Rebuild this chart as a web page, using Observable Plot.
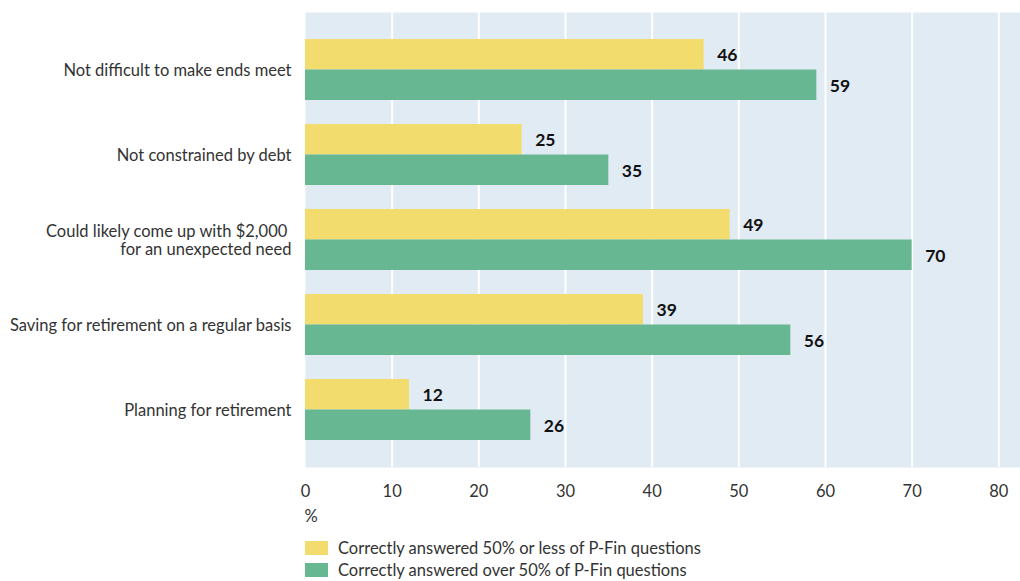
<!DOCTYPE html>
<html>
<head>
<meta charset="utf-8">
<script src="https://cdn.jsdelivr.net/npm/d3@7"></script>
<script src="https://cdn.jsdelivr.net/npm/@observablehq/plot@0.6"></script>
<style>
  html, body { margin: 0; padding: 0; background: #fff; }
  #wrap { position: relative; width: 1020px; height: 581px; font-family: Lato, "Open Sans", sans-serif; color: #333; }
  #legend { position: absolute; left: 305px; top: 537px; font-size: 16.5px; }
  .row { display: flex; align-items: center; height: 22px; }
  .sw { width: 23px; height: 14px; margin-right: 10px; }
</style>
</head>
<body>
<div id="wrap"><div id="chart"></div><div id="legend"></div></div>
<script>
const categories = [
  "Not difficult to make ends meet",
  "Not constrained by debt",
  "Could likely come up with $2,000 \nfor an unexpected need",
  "Saving for retirement on a regular basis",
  "Planning for retirement"
];
const lowValues = [46, 25, 49, 39, 12];
const highValues = [59, 35, 70, 56, 26];
const seriesNames = [
  "Correctly answered 50% or less of P-Fin questions",
  "Correctly answered over 50% of P-Fin questions"
];
const seriesColors = ["#f2dc6e", "#67b793"];
const xTicks = [0, 10, 20, 30, 40, 50, 60, 70, 80];

const low = categories.map((c, i) => ({category: c, value: lowValues[i]}));
const high = categories.map((c, i) => ({category: c, value: highValues[i]}));

const half = 30.5;

const chart = Plot.plot({
  width: 1020,
  height: 535,
  marginLeft: 305,
  marginRight: 0,
  marginTop: 12,
  marginBottom: 68,
  style: {fontFamily: "Lato, 'Open Sans', sans-serif", fontSize: "16.5px", color: "#333", background: "white"},
  x: {domain: [0, 82.5]},
  y: {domain: categories, paddingInner: 0.285, paddingOuter: 0.31},
  marks: [
    Plot.frame({fill: "#e1ebf4", stroke: null}),
    Plot.gridX({ticks: xTicks.filter(d => d > 0), stroke: "white", strokeOpacity: 1, strokeWidth: 2}),
    Plot.barX(low, {x: "value", y: "category", fill: seriesColors[0], insetBottom: half}),
    Plot.barX(high, {x: "value", y: "category", fill: seriesColors[1], insetTop: half}),
    Plot.text(low, {x: "value", y: "category", text: d => String(d.value), dx: 13, dy: -14.5, textAnchor: "start", fontWeight: "bold", fontSize: 17.5, fill: "#111"}),
    Plot.text(high, {x: "value", y: "category", text: d => String(d.value), dx: 13, dy: 16.5, textAnchor: "start", fontWeight: "bold", fontSize: 17.5, fill: "#111"}),
    Plot.axisY({tickSize: 0, tickPadding: 14, label: null, fontSize: 16.5, lineHeight: 1.12}),
    Plot.axisX({ticks: xTicks, tickSize: 0, tickPadding: 18, label: null, fontSize: 16.5}),
    Plot.text(["%"], {frameAnchor: "bottom-left", dy: 54, dx: -1, textAnchor: "start", fontSize: 16.5, fill: "#333"})
  ]
});
document.getElementById("chart").appendChild(chart);

const legend = document.getElementById("legend");
seriesNames.forEach((name, i) => {
  const row = document.createElement("div");
  row.className = "row";
  const sw = document.createElement("div");
  sw.className = "sw";
  sw.style.background = seriesColors[i];
  const t = document.createElement("span");
  t.textContent = name;
  row.appendChild(sw);
  row.appendChild(t);
  legend.appendChild(row);
});
</script>
</body>
</html>
